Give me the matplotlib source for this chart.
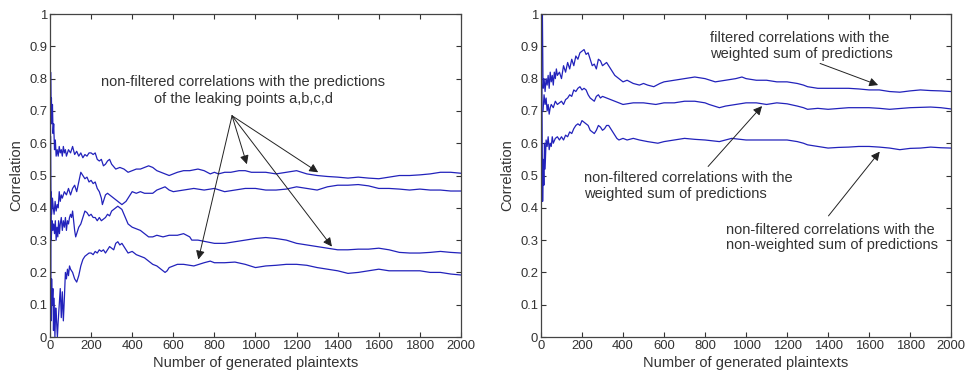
import matplotlib
matplotlib.use("Agg")
import matplotlib.pyplot as plt

plt.rcParams['font.family'] = ['Liberation Sans', 'DejaVu Sans']

# ---- Left panel data (non-filtered correlations, leaking points a,b,c,d)
xa = [1, 3, 5, 7, 9, 12, 15, 18, 22, 26, 30, 35, 40, 45, 50, 55, 60, 65, 70, 75, 80, 90, 100, 110, 120, 130, 140, 150, 160, 170, 180, 190, 200, 210, 220, 230, 240, 250, 260, 270, 280, 290, 300, 320, 340, 360, 380, 400, 420, 440, 460, 480, 500, 520, 540, 560, 580, 600, 620, 650, 680, 720, 750, 780, 800, 820, 850, 880, 920, 950, 980, 1000, 1050, 1100, 1150, 1200, 1250, 1300, 1350, 1400, 1450, 1500, 1550, 1600, 1650, 1700, 1750, 1800, 1850, 1900, 1950, 2000]
ya = [0.30, 0.82, 0.70, 0.74, 0.66, 0.72, 0.63, 0.66, 0.58, 0.61, 0.56, 0.58, 0.56, 0.59, 0.57, 0.58, 0.56, 0.59, 0.57, 0.58, 0.56, 0.58, 0.57, 0.59, 0.565, 0.575, 0.56, 0.57, 0.555, 0.565, 0.56, 0.57, 0.57, 0.565, 0.57, 0.55, 0.545, 0.55, 0.53, 0.535, 0.545, 0.55, 0.535, 0.52, 0.525, 0.52, 0.51, 0.515, 0.52, 0.52, 0.525, 0.53, 0.525, 0.515, 0.51, 0.505, 0.50, 0.505, 0.51, 0.515, 0.515, 0.52, 0.515, 0.505, 0.51, 0.505, 0.51, 0.51, 0.515, 0.515, 0.51, 0.51, 0.51, 0.505, 0.51, 0.515, 0.505, 0.50, 0.497, 0.495, 0.492, 0.495, 0.492, 0.49, 0.495, 0.50, 0.50, 0.502, 0.505, 0.51, 0.51, 0.507]

xb = [2, 5, 8, 12, 16, 20, 25, 30, 35, 40, 45, 50, 55, 60, 70, 80, 90, 100, 110, 120, 130, 140, 150, 160, 170, 180, 190, 200, 210, 220, 230, 240, 250, 255, 260, 270, 280, 290, 300, 310, 320, 330, 340, 350, 360, 370, 380, 390, 400, 420, 440, 460, 480, 500, 520, 540, 560, 580, 600, 650, 700, 750, 800, 850, 900, 950, 1000, 1050, 1100, 1150, 1200, 1250, 1300, 1350, 1400, 1450, 1500, 1550, 1600, 1650, 1700, 1750, 1800, 1850, 1900, 1950, 2000]
yb = [0.10, 0.45, 0.38, 0.43, 0.40, 0.38, 0.42, 0.39, 0.41, 0.40, 0.45, 0.42, 0.44, 0.43, 0.45, 0.44, 0.46, 0.44, 0.46, 0.47, 0.45, 0.48, 0.51, 0.50, 0.49, 0.495, 0.48, 0.485, 0.475, 0.48, 0.46, 0.45, 0.43, 0.41, 0.42, 0.44, 0.445, 0.44, 0.435, 0.43, 0.425, 0.42, 0.415, 0.41, 0.415, 0.42, 0.43, 0.44, 0.45, 0.445, 0.45, 0.445, 0.445, 0.445, 0.455, 0.46, 0.465, 0.455, 0.45, 0.455, 0.46, 0.455, 0.46, 0.45, 0.455, 0.46, 0.46, 0.455, 0.455, 0.458, 0.465, 0.46, 0.455, 0.465, 0.47, 0.47, 0.472, 0.468, 0.46, 0.46, 0.458, 0.455, 0.458, 0.455, 0.455, 0.452, 0.452]

xc = [3, 6, 10, 14, 18, 22, 26, 30, 34, 38, 42, 46, 50, 55, 60, 65, 70, 75, 80, 85, 90, 95, 100, 105, 110, 115, 120, 125, 130, 140, 150, 160, 170, 180, 190, 200, 210, 220, 230, 240, 250, 260, 270, 280, 290, 300, 310, 320, 330, 340, 350, 360, 380, 400, 420, 440, 460, 480, 500, 520, 550, 580, 620, 650, 680, 690, 720, 760, 800, 850, 900, 950, 1000, 1050, 1100, 1150, 1200, 1250, 1300, 1350, 1400, 1450, 1500, 1550, 1600, 1650, 1700, 1750, 1800, 1850, 1900, 1950, 2000]
yc = [0.62, 0.30, 0.36, 0.33, 0.35, 0.32, 0.36, 0.30, 0.34, 0.31, 0.36, 0.32, 0.35, 0.37, 0.33, 0.36, 0.34, 0.37, 0.33, 0.36, 0.35, 0.37, 0.38, 0.37, 0.39, 0.36, 0.33, 0.31, 0.32, 0.34, 0.35, 0.37, 0.39, 0.385, 0.375, 0.38, 0.37, 0.37, 0.36, 0.37, 0.36, 0.365, 0.37, 0.38, 0.375, 0.39, 0.395, 0.40, 0.405, 0.40, 0.395, 0.38, 0.35, 0.34, 0.335, 0.33, 0.32, 0.31, 0.31, 0.315, 0.31, 0.315, 0.315, 0.32, 0.31, 0.30, 0.30, 0.295, 0.29, 0.29, 0.295, 0.30, 0.305, 0.308, 0.305, 0.30, 0.29, 0.285, 0.28, 0.275, 0.27, 0.27, 0.272, 0.272, 0.275, 0.27, 0.262, 0.26, 0.26, 0.262, 0.265, 0.262, 0.26]

xd = [2, 5, 8, 11, 14, 17, 20, 24, 28, 32, 36, 40, 45, 50, 55, 60, 65, 70, 75, 80, 85, 90, 95, 100, 110, 120, 130, 140, 150, 160, 170, 180, 190, 200, 210, 220, 230, 240, 250, 260, 270, 280, 290, 300, 310, 320, 330, 340, 350, 360, 370, 380, 400, 420, 440, 460, 480, 500, 520, 540, 560, 570, 580, 600, 620, 650, 700, 750, 780, 800, 850, 900, 950, 1000, 1050, 1100, 1150, 1200, 1250, 1300, 1350, 1400, 1450, 1500, 1550, 1600, 1650, 1700, 1750, 1800, 1850, 1900, 1950, 2000]
yd = [0.45, 0.05, 0.18, 0.10, 0.15, 0.02, 0.12, 0.00, 0.09, 0.05, 0.00, 0.05, 0.10, 0.15, 0.06, 0.14, 0.05, 0.12, 0.20, 0.18, 0.21, 0.19, 0.22, 0.21, 0.20, 0.18, 0.17, 0.19, 0.22, 0.24, 0.25, 0.255, 0.26, 0.26, 0.255, 0.265, 0.26, 0.27, 0.265, 0.27, 0.26, 0.27, 0.28, 0.275, 0.27, 0.29, 0.295, 0.285, 0.29, 0.28, 0.27, 0.26, 0.265, 0.255, 0.25, 0.245, 0.235, 0.225, 0.22, 0.21, 0.20, 0.205, 0.215, 0.22, 0.225, 0.225, 0.22, 0.23, 0.235, 0.23, 0.23, 0.232, 0.225, 0.215, 0.22, 0.222, 0.225, 0.225, 0.222, 0.215, 0.21, 0.205, 0.197, 0.20, 0.205, 0.21, 0.205, 0.205, 0.205, 0.205, 0.20, 0.20, 0.195, 0.192]

# ---- Right panel data
xe = [1, 3, 5, 7, 10, 15, 20, 25, 30, 35, 40, 45, 50, 55, 60, 65, 70, 75, 80, 90, 100, 110, 120, 130, 140, 150, 160, 170, 180, 190, 200, 210, 220, 230, 240, 250, 260, 270, 280, 290, 300, 310, 320, 330, 340, 350, 360, 380, 400, 420, 450, 480, 500, 520, 550, 580, 600, 650, 700, 750, 800, 850, 900, 950, 980, 1000, 1050, 1100, 1150, 1200, 1250, 1280, 1300, 1350, 1400, 1450, 1500, 1550, 1600, 1650, 1700, 1750, 1800, 1850, 1900, 1950, 2000]
ye = [0.45, 1.00, 0.90, 1.00, 0.77, 0.80, 0.76, 0.80, 0.78, 0.81, 0.77, 0.82, 0.79, 0.81, 0.78, 0.82, 0.80, 0.83, 0.81, 0.82, 0.80, 0.84, 0.82, 0.85, 0.83, 0.86, 0.84, 0.87, 0.86, 0.88, 0.885, 0.89, 0.875, 0.88, 0.86, 0.84, 0.845, 0.83, 0.86, 0.855, 0.84, 0.845, 0.85, 0.84, 0.83, 0.82, 0.81, 0.80, 0.79, 0.795, 0.785, 0.78, 0.785, 0.78, 0.775, 0.785, 0.79, 0.795, 0.80, 0.805, 0.80, 0.79, 0.795, 0.80, 0.805, 0.80, 0.795, 0.795, 0.79, 0.79, 0.785, 0.78, 0.775, 0.77, 0.77, 0.77, 0.77, 0.768, 0.765, 0.765, 0.76, 0.758, 0.762, 0.765, 0.763, 0.762, 0.76]

xf = [10, 15, 20, 25, 30, 35, 40, 45, 50, 60, 70, 80, 90, 100, 110, 120, 130, 140, 150, 160, 170, 180, 190, 200, 210, 220, 230, 240, 250, 260, 270, 280, 290, 300, 320, 340, 360, 380, 400, 450, 500, 560, 600, 650, 700, 750, 800, 820, 870, 900, 950, 1000, 1050, 1100, 1150, 1200, 1250, 1280, 1300, 1350, 1400, 1500, 1600, 1650, 1700, 1800, 1900, 1950, 2000]
yf = [0.70, 0.75, 0.72, 0.74, 0.70, 0.72, 0.69, 0.71, 0.72, 0.71, 0.73, 0.72, 0.725, 0.73, 0.72, 0.735, 0.74, 0.75, 0.745, 0.765, 0.76, 0.77, 0.775, 0.765, 0.77, 0.765, 0.75, 0.74, 0.735, 0.73, 0.745, 0.75, 0.74, 0.745, 0.74, 0.735, 0.73, 0.725, 0.72, 0.725, 0.725, 0.72, 0.725, 0.725, 0.73, 0.73, 0.725, 0.72, 0.71, 0.715, 0.72, 0.725, 0.725, 0.72, 0.725, 0.722, 0.715, 0.71, 0.705, 0.708, 0.705, 0.71, 0.71, 0.708, 0.705, 0.71, 0.712, 0.71, 0.706]

xg = [3, 6, 8, 11, 14, 17, 20, 25, 30, 35, 40, 45, 50, 55, 60, 70, 80, 90, 100, 110, 120, 130, 140, 150, 160, 170, 180, 190, 200, 210, 220, 230, 240, 250, 260, 270, 280, 290, 300, 310, 320, 330, 340, 350, 360, 370, 380, 400, 420, 450, 480, 520, 570, 600, 650, 700, 750, 800, 870, 930, 1000, 1050, 1100, 1150, 1200, 1250, 1280, 1300, 1350, 1400, 1450, 1500, 1550, 1600, 1650, 1700, 1750, 1800, 1850, 1900, 1950, 2000]
yg = [0.95, 0.60, 0.42, 0.55, 0.47, 0.60, 0.52, 0.61, 0.59, 0.62, 0.58, 0.60, 0.59, 0.62, 0.60, 0.615, 0.62, 0.61, 0.62, 0.61, 0.625, 0.62, 0.635, 0.63, 0.645, 0.655, 0.66, 0.655, 0.67, 0.665, 0.66, 0.655, 0.64, 0.635, 0.63, 0.64, 0.655, 0.65, 0.64, 0.645, 0.655, 0.655, 0.645, 0.635, 0.625, 0.615, 0.61, 0.615, 0.61, 0.615, 0.61, 0.605, 0.60, 0.605, 0.61, 0.615, 0.612, 0.61, 0.605, 0.615, 0.61, 0.61, 0.61, 0.61, 0.61, 0.605, 0.6, 0.595, 0.59, 0.585, 0.587, 0.588, 0.59, 0.59, 0.588, 0.585, 0.58, 0.584, 0.585, 0.588, 0.586, 0.585]

xticks = [0, 200, 400, 600, 800, 1000, 1200, 1400, 1600, 1800, 2000]
yticks = [0, 0.1, 0.2, 0.3, 0.4, 0.5, 0.6, 0.7, 0.8, 0.9, 1]
yticklabels = ['0', '0.1', '0.2', '0.3', '0.4', '0.5', '0.6', '0.7', '0.8', '0.9', '1']
xlabel = 'Number of generated plaintexts'
ylabel = 'Correlation'

line_color = '#2222bb'
tfs = 9.4
fs = 10.5

fig = plt.figure(figsize=(9.65, 3.76), dpi=100)
axL = fig.add_axes([0.0518, 0.1037, 0.4259, 0.859])
axR = fig.add_axes([0.5606, 0.1037, 0.4250, 0.859])

for ax in (axL, axR):
    ax.set_xlim(0, 2000)
    ax.set_ylim(0, 1)
    ax.set_xticks(xticks)
    ax.set_xticklabels([str(t) for t in xticks])
    ax.set_yticks(yticks)
    ax.set_yticklabels(yticklabels)
    ax.tick_params(direction='in', top=True, right=True, length=3.5, width=0.8,
                   labelsize=tfs, colors='#333333', pad=2)
    for s in ax.spines.values():
        s.set_color('#444444')
        s.set_linewidth(0.9)
    ax.set_xlabel(xlabel, fontsize=fs, color='#333333', labelpad=3)
    ax.set_ylabel(ylabel, fontsize=fs, color='#333333', labelpad=4)

for x, y in ((xa, ya), (xb, yb), (xc, yc), (xd, yd)):
    axL.plot(x, y, color=line_color, lw=0.9)
for x, y in ((xe, ye), (xf, yf), (xg, yg)):
    axR.plot(x, y, color=line_color, lw=0.9)

arrow = dict(arrowstyle='-|>', color='#222222', lw=0.7, mutation_scale=13, shrinkA=0, shrinkB=0)

axL.text(940, 0.79, 'non-filtered correlations with the predictions',
         ha='center', va='center', fontsize=fs, color='#333333')
axL.text(940, 0.737, 'of the leaking points a,b,c,d',
         ha='center', va='center', fontsize=fs, color='#333333')
for tx, ty in ((722, 0.24), (958, 0.535), (1305, 0.51), (1372, 0.28)):
    axL.annotate('', xy=(tx, ty), xytext=(886, 0.685), arrowprops=arrow)

axR.text(825, 0.902, 'filtered correlations with the\nweighted sum of predictions',
         ha='left', va='center', fontsize=fs, color='#333333', linespacing=1.15)
axR.annotate('', xy=(1644, 0.78), xytext=(1361, 0.847), arrowprops=arrow)
axR.text(210, 0.468, 'non-filtered correlations with the\nweighted sum of predictions',
         ha='left', va='center', fontsize=fs, color='#333333', linespacing=1.15)
axR.annotate('', xy=(1078, 0.715), xytext=(815, 0.528), arrowprops=arrow)
axR.text(904, 0.308, 'non-filtered correlations with the\nnon-weighted sum of predictions',
         ha='left', va='center', fontsize=fs, color='#333333', linespacing=1.15)
axR.annotate('', xy=(1652, 0.574), xytext=(1402, 0.375), arrowprops=arrow)

fig.savefig('out.png', dpi=100)
